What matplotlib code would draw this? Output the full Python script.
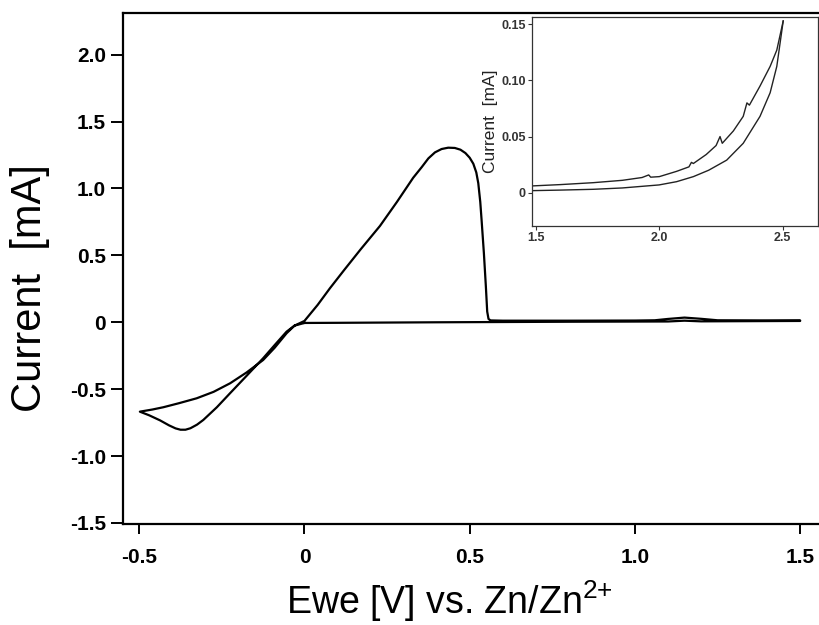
import numpy as np
import matplotlib
matplotlib.use("Agg")
import matplotlib.pyplot as plt

plt.rcParams['font.family'] = ['Liberation Sans', 'DejaVu Sans']
plt.rcParams['mathtext.fontset'] = 'custom'
plt.rcParams['mathtext.rm'] = 'Liberation Sans'
plt.rcParams['mathtext.it'] = 'Liberation Sans:italic'
plt.rcParams['mathtext.bf'] = 'Liberation Sans:bold'

# main cyclic voltammogram, in scan order: 0 -> -0.5 -> 1.5 -> 0
cv_v = [0.00, -0.03, -0.054, -0.09, -0.125, -0.175, -0.225, -0.265, -0.306, -0.325,
        -0.345, -0.36, -0.375, -0.39, -0.41, -0.437, -0.47, -0.498,
        -0.46, -0.427, -0.38, -0.326, -0.275, -0.225, -0.175, -0.125, -0.09, -0.054,
        -0.03, 0.0, 0.04, 0.077, 0.12, 0.17, 0.2285, 0.28, 0.329, 0.355, 0.375, 0.395,
        0.415, 0.435, 0.455, 0.472, 0.487, 0.50, 0.511, 0.52, 0.526, 0.532, 0.536,
        0.543, 0.549, 0.553, 0.557, 0.563, 0.6, 0.8, 1.0, 1.06,
        1.10, 1.15, 1.20, 1.25, 1.4, 1.5,
        1.5, 1.2, 1.15, 1.1, 0.8, 0.4, 0.1, 0.0]
cv_i = [-0.005, -0.025, -0.07, -0.17, -0.269, -0.40, -0.53, -0.635, -0.73, -0.765,
        -0.792, -0.803, -0.803, -0.793, -0.77, -0.733, -0.695, -0.668,
        -0.652, -0.635, -0.605, -0.568, -0.52, -0.456, -0.375, -0.282, -0.19, -0.082,
        -0.025, 0.01, 0.13, 0.254, 0.39, 0.545, 0.72, 0.90, 1.08, 1.16, 1.225, 1.27,
        1.295, 1.305, 1.303, 1.29, 1.265, 1.23, 1.185, 1.12, 1.04, 0.90, 0.765,
        0.516, 0.266, 0.08, 0.025, 0.014, 0.012, 0.012, 0.013, 0.015,
        0.025, 0.035, 0.026, 0.015, 0.014, 0.014,
        0.010, 0.007, 0.012, 0.006, 0.004, 0.0, -0.004, -0.005]

# inset: high potential region, two sweeps
ins_v_up = [1.483, 1.60, 1.732, 1.85, 1.93, 1.957, 1.965, 2.0, 2.07, 2.12, 2.13, 2.138,
            2.19, 2.23, 2.246, 2.255, 2.30, 2.34, 2.355, 2.365, 2.408, 2.449, 2.476, 2.502]
ins_i_up = [0.006, 0.0072, 0.0089, 0.011, 0.0135, 0.0158, 0.0138, 0.0143, 0.019, 0.023,
            0.027, 0.026, 0.034, 0.042, 0.050, 0.044, 0.055, 0.068, 0.080, 0.078,
            0.095, 0.1125, 0.127, 0.153]
ins_v_dn = [1.483, 1.60, 1.732, 1.85, 1.999, 2.07, 2.138, 2.20, 2.273, 2.34, 2.408, 2.449,
            2.476, 2.502]
ins_i_dn = [0.0018, 0.0023, 0.003, 0.0042, 0.0069, 0.0098, 0.0143, 0.020, 0.029, 0.044,
            0.068, 0.089, 0.1125, 0.153]

main_yticks = [-1.5, -1.0, -0.5, 0, 0.5, 1.0, 1.5, 2.0]
main_ylabels = ['-1.5', '-1.0', '-0.5', '0', '0.5', '1.0', '1.5', '2.0']
main_xticks = [-0.5, 0, 0.5, 1.0, 1.5]
main_xlabels = ['-0.5', '0', '0.5', '1.0', '1.5']
ins_yticks = [0, 0.05, 0.10, 0.15]
ins_ylabels = ['0', '0.05', '0.10', '0.15']
ins_xticks = [1.5, 2.0, 2.5]
ins_xlabels = ['1.5', '2.0', '2.5']

fig = plt.figure(figsize=(8.2, 6.25), dpi=100)
ax = fig.add_axes([0.1496, 0.1611, 1.0 - 0.1496, 0.9797 - 0.1611])
ax.plot(cv_v, cv_i, color='black', lw=1.6)
ax.set_xlim(-0.55, 1.56)
ax.set_ylim(-1.51, 2.314)
ax.spines['right'].set_visible(False)
for s in ['left', 'bottom', 'top']:
    ax.spines[s].set_linewidth(1.6)
ax.set_yticks(main_yticks, labels=main_ylabels)
ax.set_xticks(main_xticks, labels=main_xlabels)
ax.tick_params(axis='y', direction='out', length=9, width=1.4, pad=3, labelsize=15)
ax.tick_params(axis='x', direction='out', length=7, width=1.4, pad=10, labelsize=15)
for lab in ax.get_xticklabels() + ax.get_yticklabels():
    lab.set_fontweight('bold')
ax.set_ylabel('Current  [mA]', fontsize=30)
ax.yaxis.set_label_coords(-0.104, 0.462)
ax.set_xlabel(r'Ewe [V] vs. Zn/Zn$^{\mathrm{2}\text{+}}$', fontsize=27)
ax.xaxis.set_label_coords(0.468, -0.105)

# inset
axi = fig.add_axes([532 / 820, (625 - 226) / 625, (818 - 532) / 820, (226 - 16.7) / 625])
axi.plot(ins_v_up, ins_i_up, color='#222222', lw=1.0)
axi.plot(ins_v_dn, ins_i_dn, color='#222222', lw=1.0)
axi.set_xlim(1.484, 2.643)
axi.set_ylim(-0.0297, 0.1568)
for s in axi.spines.values():
    s.set_linewidth(0.9)
    s.set_color('#333333')
axi.set_yticks(ins_yticks, labels=ins_ylabels)
axi.set_xticks(ins_xticks, labels=ins_xlabels)
axi.tick_params(direction='out', length=3, width=0.8, pad=1.5, labelsize=9,
                colors='#333333')
for lab in axi.get_xticklabels() + axi.get_yticklabels():
    lab.set_fontweight('bold')
axi.set_ylabel('Current  [mA]', fontsize=12.5, labelpad=2, color='#222222')

fig.savefig('out.png', dpi=100)
